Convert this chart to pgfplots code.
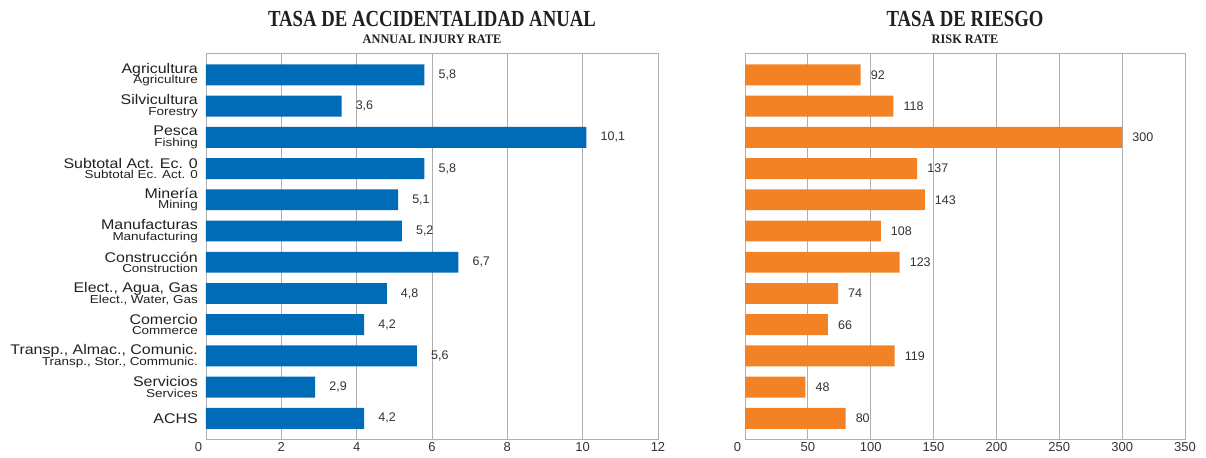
\documentclass[border=0pt]{standalone}
\usepackage{pgfplots}
\pgfplotsset{compat=1.18}
\usepackage{fontspec}
\usepackage{graphicx}
\setmainfont{Liberation Sans}
\newfontfamily\titlefont{Liberation Serif}

\definecolor{barblue}{RGB}{0,107,182}
\definecolor{barorange}{RGB}{242,130,35}
\definecolor{gridgray}{RGB}{175,175,175}
\definecolor{txt}{RGB}{51,51,51}
\definecolor{ttl}{RGB}{35,31,32}

% two-line category label: spanish above, english below
\newcommand{\lab}[2]{{\fontsize{14bp}{14bp}\selectfont\scalebox{1.14}[1]{#1}}\\[-1.5bp]{\fontsize{11.5bp}{10bp}\selectfont\scalebox{1.17}[1]{#2}}}

\pgfplotsset{
  ratebar/.style={
    scale only axis, height=386bp,
    xbar, y dir=reverse,
    ymin=-0.70, ymax=11.66, bar width=0.67,
    xmin=0, enlargelimits=false, clip=false,
    axis line style={gridgray},
    xmajorgrids, major grid style={gridgray, line width=0.9bp},
    major tick length=0,
    xticklabel style={font=\fontsize{13bp}{13bp}\selectfont, text=txt},
    nodes near coords,
    nodes near coords style={font=\fontsize{12.5bp}{12.5bp}\selectfont, text=txt, anchor=west, inner sep=0pt},
    /pgf/number format/assume math mode=true,
    /pgf/number format/use comma,
  }
}

\begin{document}
\begin{tikzpicture}
\begin{axis}[ratebar, width=452bp, at={(0,0)}, anchor=south west,
  xmax=12, xtick={0,2,...,12},
  xticklabels={\makebox[0pt][r]{0\hspace{4bp}},2,4,6,8,10,12},
  ytick={0,...,11},
  yticklabels={
    {\lab{Agricultura}{Agriculture}},
    {\lab{Silvicultura}{Forestry}},
    {\lab{Pesca}{Fishing}},
    {\lab{Subtotal Act. Ec. 0}{Subtotal Ec. Act. 0}},
    {\lab{Minería}{Mining}},
    {\lab{Manufacturas}{Manufacturing}},
    {\lab{Construcción}{Construction}},
    {\lab{Elect., Agua, Gas}{Elect., Water, Gas}},
    {\lab{Comercio}{Commerce}},
    {\lab{Transp., Almac., Comunic.}{Transp., Stor., Communic.}},
    {\lab{Servicios}{Services}},
    {\fontsize{14bp}{14bp}\selectfont\scalebox{1.14}[1]{ACHS}}},
  yticklabel style={align=right, text=ttl, inner sep=0pt, xshift=-8bp},
  /pgf/number format/fixed, /pgf/number format/precision=1,
  /pgf/number format/fixed zerofill,
  every node near coord/.append style={xshift=14bp},
]
\addplot[fill=barblue, draw=none] coordinates {
  (5.8,0) (3.6,1) (10.1,2) (5.8,3) (5.1,4) (5.2,5)
  (6.7,6) (4.8,7) (4.2,8) (5.6,9) (2.9,10) (4.2,11)
};
\node[anchor=base, text=ttl, yshift=26.5bp] at (rel axis cs:0.5,1)
  {\titlefont\bfseries\fontsize{23bp}{23bp}\selectfont\scalebox{0.815}[1]{TASA DE ACCIDENTALIDAD ANUAL}};
\node[anchor=base, text=ttl, yshift=9.5bp] at (rel axis cs:0.5,1)
  {\titlefont\bfseries\fontsize{13bp}{13bp}\selectfont\scalebox{0.95}[1]{ANNUAL INJURY RATE}};
\end{axis}

\begin{axis}[ratebar, width=440bp, at={(539bp,0)}, anchor=south west,
  xmax=350, xtick={0,50,...,350},
  xticklabels={\makebox[0pt][r]{0\hspace{4bp}},50,100,150,200,250,300,350},
  ytick=\empty,
  /pgf/number format/fixed, /pgf/number format/precision=0,
  every node near coord/.append style={xshift=10bp},
]
\addplot[fill=barorange, draw=none] coordinates {
  (92,0) (118,1) (300,2) (137,3) (143,4) (108,5)
  (123,6) (74,7) (66,8) (119,9) (48,10) (80,11)
};
\node[anchor=base, text=ttl, yshift=26.5bp] at (rel axis cs:0.5,1)
  {\titlefont\bfseries\fontsize{23bp}{23bp}\selectfont\scalebox{0.815}[1]{TASA DE RIESGO}};
\node[anchor=base, text=ttl, yshift=9.5bp] at (rel axis cs:0.5,1)
  {\titlefont\bfseries\fontsize{13bp}{13bp}\selectfont\scalebox{0.95}[1]{RISK RATE}};
\end{axis}

\pgfresetboundingbox
\path[use as bounding box] (-206bp,-19bp) rectangle (1000bp,439bp);
\end{tikzpicture}
\end{document}
